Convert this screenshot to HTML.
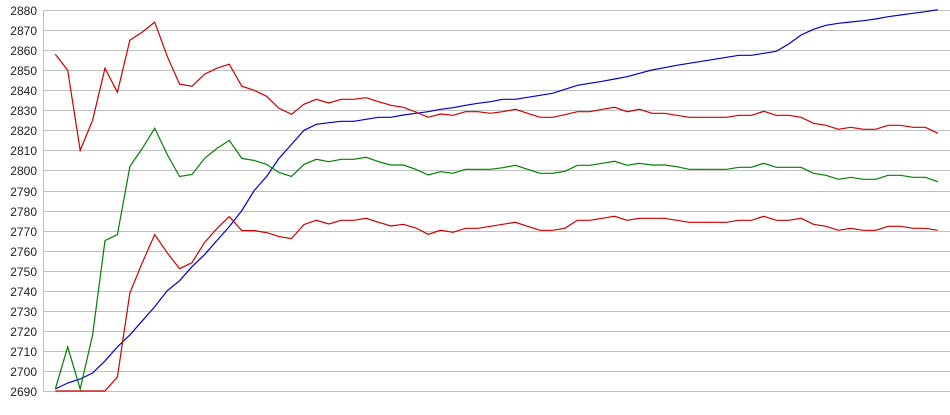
<!DOCTYPE html><html><head><style>body{margin:0;background:#fff}svg{display:block}</style></head><body>
<svg id="s" width="950" height="415" xmlns="http://www.w3.org/2000/svg" font-family="Liberation Sans, sans-serif" font-size="12"></svg>
<script>
var s=document.getElementById('s'),h='';
function Y(v){return 391-(v-2690)*2.005;}
for(var i=0;i<=19;i++){var v=2690+i*10,y=Math.round(Y(v))+0.5;
h+='<line x1="43" x2="950" y1="'+y+'" y2="'+y+'" stroke="#c0c0c0"/>';
h+='<text x="37" y="'+(y+4.5)+'" text-anchor="end" fill="#222">'+v+'</text>';}
h+='<line x1="43.5" x2="43.5" y1="10" y2="391" stroke="#c0c0c0"/>';
function X(i){return 55.3+i*12.43;}
function mk(left,zr2,zr3){var p=left.map(Y);for(var k=p.length;k<=46;k++)p.push(zr2[k-21]/3);for(k=47;k<=71;k++)p.push(zr3[k-46]/3);return p;}
var r1=mk([2858,2850,2810,2825,2851,2839,2865,2869,2874,2857,2843,2842,2848,2851,2853,2842,2840,2837,2831,2828,2833],
[298,309,298,298,293,305,316,322,336,352,342,346,335,335,340,335,328,340,352,352,344,335,335,328,322,335],
[333,328,340,340,346,352,352,352,352,346,346,334,346,346,352,370,376,388,382,388,388,376,376,382,382,400]);
var g=mk([2691,2712,2691,2718,2765,2768,2802,2811,2821,2808,2797,2798,2806,2811,2815,2806,2805,2803,2799,2797,2803],
[478,485,478,478,472,485,495,495,508,525,515,520,508,508,508,503,496,508,520,520,514,496,496,490,484,496],
[490,490,495,495,500,508,508,508,508,502,502,490,502,502,502,520,526,538,532,538,538,526,526,532,532,545]);
var r3=mk([2690,2690,2690,2690,2690,2697,2739,2754,2768,2759,2751,2754,2764,2771,2777,2770,2770,2769,2767,2766,2773],
[661,672,661,661,655,667,678,673,684,703,691,697,685,685,679,673,667,679,691,691,685,661,661,655,649,661],
[661,655,655,655,661,667,667,667,667,661,661,649,661,661,655,673,679,691,685,691,691,679,679,685,685,691]);
var b=mk([2691,2694,2696,2699,2705,2712,2718,2725,2732,2740,2745,2752,2758,2765,2772,2780,2790,2797,2806,2813,2820],
[373,368,364,364,358,352,352,345,340,335,328,323,316,310,305,298,298,292,286,280,268,256,250,244,237,230],
[230,220,210,203,196,190,184,178,172,166,166,160,154,132,105,88,76,70,66,62,57,50,45,40,35,29]);
function pl(p,c){h+='<polyline fill="none" stroke="'+c+'" stroke-width="1.2" points="'+p.map(function(y,i){return X(i).toFixed(1)+','+y.toFixed(1)}).join(' ')+'"/>';}
pl(b,'#0000cc');pl(g,'#008000');pl(r3,'#cc0000');pl(r1,'#cc0000');
s.innerHTML=h;
</script></body></html>
